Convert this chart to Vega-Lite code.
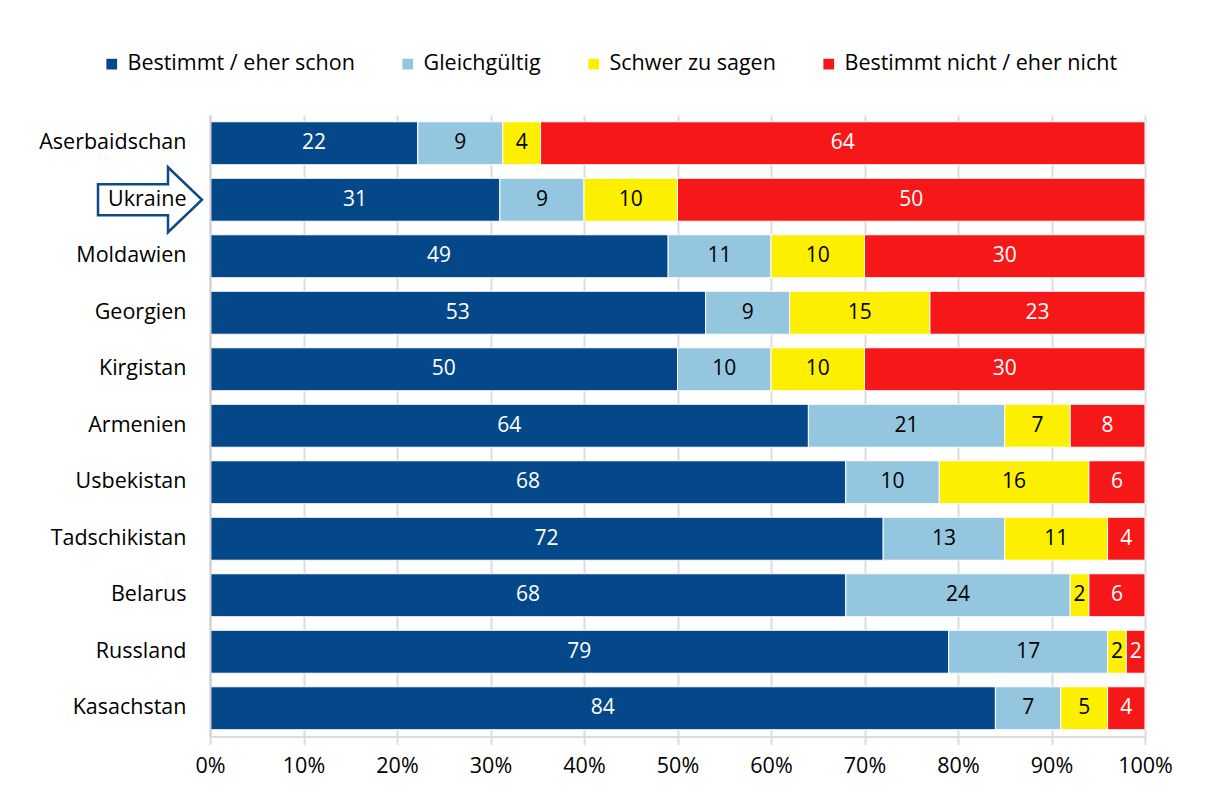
{
  "$schema": "https://vega.github.io/schema/vega-lite/v6.json",
  "width": 935,
  "height": 621.5,
  "autosize": {"type": "none"},
  "padding": {"left": 210, "top": 115, "right": 63, "bottom": 71.5},
  "background": "white",
  "config": {
    "font": "Open Sans",
    "view": {"stroke": null}
  },
  "data": {
    "values": [
      {"land": "Aserbaidschan", "kat": "Bestimmt / eher schon", "o": 1, "v": 22},
      {"land": "Aserbaidschan", "kat": "Gleichgültig", "o": 2, "v": 9},
      {"land": "Aserbaidschan", "kat": "Schwer zu sagen", "o": 3, "v": 4},
      {"land": "Aserbaidschan", "kat": "Bestimmt nicht / eher nicht", "o": 4, "v": 64},
      {"land": "Ukraine", "kat": "Bestimmt / eher schon", "o": 1, "v": 31},
      {"land": "Ukraine", "kat": "Gleichgültig", "o": 2, "v": 9},
      {"land": "Ukraine", "kat": "Schwer zu sagen", "o": 3, "v": 10},
      {"land": "Ukraine", "kat": "Bestimmt nicht / eher nicht", "o": 4, "v": 50},
      {"land": "Moldawien", "kat": "Bestimmt / eher schon", "o": 1, "v": 49},
      {"land": "Moldawien", "kat": "Gleichgültig", "o": 2, "v": 11},
      {"land": "Moldawien", "kat": "Schwer zu sagen", "o": 3, "v": 10},
      {"land": "Moldawien", "kat": "Bestimmt nicht / eher nicht", "o": 4, "v": 30},
      {"land": "Georgien", "kat": "Bestimmt / eher schon", "o": 1, "v": 53},
      {"land": "Georgien", "kat": "Gleichgültig", "o": 2, "v": 9},
      {"land": "Georgien", "kat": "Schwer zu sagen", "o": 3, "v": 15},
      {"land": "Georgien", "kat": "Bestimmt nicht / eher nicht", "o": 4, "v": 23},
      {"land": "Kirgistan", "kat": "Bestimmt / eher schon", "o": 1, "v": 50},
      {"land": "Kirgistan", "kat": "Gleichgültig", "o": 2, "v": 10},
      {"land": "Kirgistan", "kat": "Schwer zu sagen", "o": 3, "v": 10},
      {"land": "Kirgistan", "kat": "Bestimmt nicht / eher nicht", "o": 4, "v": 30},
      {"land": "Armenien", "kat": "Bestimmt / eher schon", "o": 1, "v": 64},
      {"land": "Armenien", "kat": "Gleichgültig", "o": 2, "v": 21},
      {"land": "Armenien", "kat": "Schwer zu sagen", "o": 3, "v": 7},
      {"land": "Armenien", "kat": "Bestimmt nicht / eher nicht", "o": 4, "v": 8},
      {"land": "Usbekistan", "kat": "Bestimmt / eher schon", "o": 1, "v": 68},
      {"land": "Usbekistan", "kat": "Gleichgültig", "o": 2, "v": 10},
      {"land": "Usbekistan", "kat": "Schwer zu sagen", "o": 3, "v": 16},
      {"land": "Usbekistan", "kat": "Bestimmt nicht / eher nicht", "o": 4, "v": 6},
      {"land": "Tadschikistan", "kat": "Bestimmt / eher schon", "o": 1, "v": 72},
      {"land": "Tadschikistan", "kat": "Gleichgültig", "o": 2, "v": 13},
      {"land": "Tadschikistan", "kat": "Schwer zu sagen", "o": 3, "v": 11},
      {"land": "Tadschikistan", "kat": "Bestimmt nicht / eher nicht", "o": 4, "v": 4},
      {"land": "Belarus", "kat": "Bestimmt / eher schon", "o": 1, "v": 68},
      {"land": "Belarus", "kat": "Gleichgültig", "o": 2, "v": 24},
      {"land": "Belarus", "kat": "Schwer zu sagen", "o": 3, "v": 2},
      {"land": "Belarus", "kat": "Bestimmt nicht / eher nicht", "o": 4, "v": 6},
      {"land": "Russland", "kat": "Bestimmt / eher schon", "o": 1, "v": 79},
      {"land": "Russland", "kat": "Gleichgültig", "o": 2, "v": 17},
      {"land": "Russland", "kat": "Schwer zu sagen", "o": 3, "v": 2},
      {"land": "Russland", "kat": "Bestimmt nicht / eher nicht", "o": 4, "v": 2},
      {"land": "Kasachstan", "kat": "Bestimmt / eher schon", "o": 1, "v": 84},
      {"land": "Kasachstan", "kat": "Gleichgültig", "o": 2, "v": 7},
      {"land": "Kasachstan", "kat": "Schwer zu sagen", "o": 3, "v": 5},
      {"land": "Kasachstan", "kat": "Bestimmt nicht / eher nicht", "o": 4, "v": 4}
    ]
  },
  "encoding": {
    "y": {
      "field": "land",
      "type": "nominal",
      "sort": ["Aserbaidschan", "Ukraine", "Moldawien", "Georgien", "Kirgistan", "Armenien", "Usbekistan", "Tadschikistan", "Belarus", "Russland", "Kasachstan"],
      "scale": {"paddingInner": 0.24, "paddingOuter": 0.12},
      "axis": {
        "title": null,
        "zindex": 1,
        "ticks": false,
        "domain": true,
        "domainColor": "#d0d0d0",
        "domainWidth": 2,
        "labelFontSize": 21.5,
        "labelColor": "#000000",
        "labelPadding": 24
      }
    }
  },
  "layer": [
    {
      "mark": {"type": "bar", "stroke": "white", "strokeWidth": 1},
      "encoding": {
        "x": {
          "field": "v",
          "type": "quantitative",
          "stack": "normalize",
          "scale": {"domain": [0, 1], "nice": false},
          "axis": {
            "title": null,
            "format": "%",
            "values": [0, 0.1, 0.2, 0.3, 0.4, 0.5, 0.6, 0.7, 0.8, 0.9, 1],
            "zindex": 0,
            "grid": true,
            "gridColor": "#dcdcdc",
            "gridWidth": 2,
            "domain": true,
            "domainColor": "#dcdcdc",
            "domainWidth": 2,
            "tickColor": "#dcdcdc",
            "tickWidth": 2,
            "tickSize": 8,
            "labelFlush": false,
            "labelFontSize": 21.5,
            "labelColor": "#000000",
            "labelPadding": 11
          }
        },
        "color": {
          "field": "kat",
          "type": "nominal",
          "scale": {
            "domain": ["Bestimmt / eher schon", "Gleichgültig", "Schwer zu sagen", "Bestimmt nicht / eher nicht"],
            "range": ["#04488a", "#95c6df", "#fcf000", "#f61719"]
          },
          "legend": {
            "title": null,
            "orient": "none",
            "direction": "horizontal",
            "legendX": -109,
            "legendY": -62,
            "symbolType": "square",
            "symbolSize": 115,
            "symbolStrokeWidth": 0,
            "labelFontSize": 21.5,
            "labelColor": "#000000",
            "labelOffset": 5,
            "columnPadding": 42,
            "labelLimit": 400
          }
        },
        "order": {"field": "o", "type": "quantitative"}
      }
    },
    {
      "mark": {"type": "text", "fontSize": 21, "align": "center", "baseline": "middle"},
      "encoding": {
        "x": {"field": "v", "type": "quantitative", "stack": "normalize", "bandPosition": 0.5},
        "detail": {"field": "kat"},
        "order": {"field": "o", "type": "quantitative"},
        "text": {"field": "v", "type": "quantitative"},
        "color": {
          "condition": {"test": "datum.kat === 'Gleichgültig' || datum.kat === 'Schwer zu sagen'", "value": "#000000"},
          "value": "#ffffff"
        }
      }
    },
    {
      "transform": [{"filter": "datum.land === 'Ukraine' && datum.o === 1"}],
      "mark": {
        "type": "point",
        "shape": "M-112,-15.5 L-42,-15.5 L-42,-32.5 L-8,0 L-42,32.5 L-42,15.5 L-112,15.5 Z",
        "size": 4,
        "filled": true,
        "fill": "#ffffff",
        "stroke": "#0d4a8a",
        "strokeWidth": 2.5,
        "opacity": 1
      },
      "encoding": {
        "x": {"datum": 0, "type": "quantitative"}
      }
    }
  ]
}
